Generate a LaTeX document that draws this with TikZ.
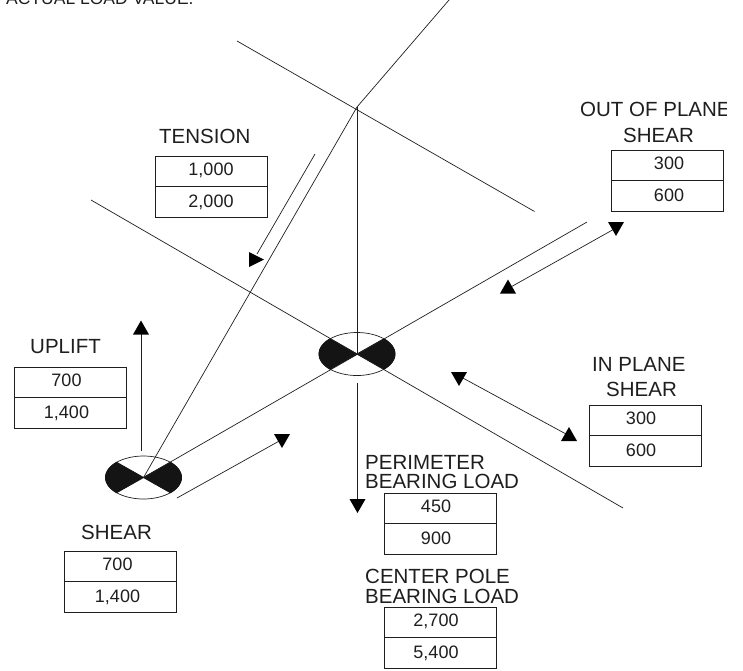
\documentclass[tikz,border=0pt]{standalone}
\usepackage{fontspec}
\setmainfont{Liberation Sans}
\usetikzlibrary{shapes.geometric}
\definecolor{ink}{HTML}{1E1E1E}
\tikzset{
  wire/.style={draw=ink,line width=0.7pt},
  boxcell/.style={draw=ink,line width=0.75pt,inner sep=0pt,minimum width=112pt,minimum height=30.5pt,font=\fontsize{18}{18}\selectfont,text=ink},
  firstcell/.style={boxcell,text height=12.9pt,text depth=3.9pt},
  secondcell/.style={boxcell,text height=12.9pt,text depth=0.9pt},
  caption/.style={anchor=base west,inner sep=0pt,font=\fontsize{20.5}{20.5}\selectfont,text=ink},
  head/.style={fill=black,draw=none},
  disc/.style={draw=ink,line width=0.7pt,shape=ellipse,inner sep=0pt,minimum width=76pt,minimum height=43pt},
  wedge/.style={fill=black!92,draw=black!92,line width=0.9pt,line join=round}
}
% name, centre x, top y, text shift, first value, second value
\newcommand{\loadbox}[6]{%
  \node[firstcell] (#1a) at (#2,#3+15.25) {\kern#4pt #5};
  \node[secondcell] (#1b) at (#2,#3+45.75) {\kern#4pt #6};
}
\newcommand{\triDown}[2]{\path[head] (#1-8,#2) -- (#1+8,#2) -- (#1,#2+14) -- cycle;}
\newcommand{\triUp}[2]{\path[head] (#1-8,#2) -- (#1+8,#2) -- (#1,#2-14) -- cycle;}
\newcommand{\tieshape}[2]{%
  \path[wedge,shift={(#1,#2)}] (0,0) -- plot[domain=-45:45,samples=24] ({38*cos(\x)},{21.5*sin(\x)}) -- cycle;
  \path[wedge,shift={(#1,#2)}] (0,0) -- plot[domain=135:225,samples=24] ({38*cos(\x)},{21.5*sin(\x)}) -- cycle;
}
\begin{document}
\begin{tikzpicture}[x=1pt,y=-1pt]
\useasboundingbox (0,0) rectangle (743,670);
\clip (0,0) rectangle (726,670);
\node[anchor=base west,inner sep=0pt,font=\fontsize{17.5}{18}\selectfont,text=ink] (note) at (6,4) {ACTUAL LOAD VALUE.};

% structure points
\coordinate (hubA) at (357,354);
\coordinate (hubB) at (143.5,477.5);
\coordinate (apex) at (357,107);
\coordinate (topEnd) at (449,0);
\coordinate (ridgeL) at (237,41);
\coordinate (ridgeR) at (534.5,211.5);
\coordinate (planeL) at (91,200);
\coordinate (planeR) at (623,508);
\coordinate (outEnd) at (587,222);

% discs
\node[disc] (discA) at (hubA) {};
\node[disc] (discB) at (hubB) {};
\tieshape{357}{354}
\tieshape{143.5}{477.5}

% structure lines
\draw[wire] (hubB) -- (apex) -- (topEnd);
\draw[wire] (ridgeL) -- (ridgeR);
\draw[wire] (apex) -- (hubA);
\draw[wire] (planeL) -- (planeR);
\draw[wire] (hubB) -- (outEnd);

% force arrows
\coordinate (tensA) at (315,154);
\coordinate (tensB) at (257,254);
\draw[wire] (tensA) -- (tensB);
\path[head] (249,252) -- (264,259.5) -- (249,267) -- cycle;

\coordinate (oopA) at (616,228);
\coordinate (oopB) at (509,288);
\draw[wire] (oopA) -- (oopB);
\triDown{616}{222}
\triUp{508}{293.5}

\coordinate (ipA) at (461,377);
\coordinate (ipB) at (566,434);
\draw[wire] (ipA) -- (ipB);
\triDown{459}{372}
\triUp{569}{441}

\coordinate (upA) at (141,451);
\coordinate (upB) at (141,330);
\draw[wire] (upA) -- (upB);
\triUp{141}{334.5}

\coordinate (shA) at (177,498);
\coordinate (shB) at (281,440);
\draw[wire] (shA) -- (shB);
\triDown{282}{434}

\coordinate (perA) at (357.5,383);
\coordinate (perB) at (357.5,502);
\draw[wire] (perA) -- (perB);
\triDown{357.5}{499}

% load tables
\loadbox{tension}{211}{156}{0}{1,000}{2,000}
\loadbox{uplift}{70}{367}{-7}{700}{1,400}
\loadbox{shear}{120}{551}{-5}{700}{1,400}
\loadbox{perim}{440.5}{493}{-9}{450}{900}
\loadbox{centre}{440.5}{607}{-9}{2,700}{5,400}
\loadbox{inplane}{645}{405}{-8}{300}{600}
\loadbox{outplane}{667.5}{150}{3}{300}{600}

% captions
\node[caption] (capT) at (159,143) {TENSION};
\node[caption] (capU) at (30,353) {UPLIFT};
\node[caption] (capS) at (81,539) {SHEAR};
\node[caption] (capP1) at (365,469) {PERIMETER};
\node[caption] (capP2) at (365,488) {BEARING LOAD};
\node[caption] (capC1) at (365,583) {CENTER POLE};
\node[caption] (capC2) at (365,603) {BEARING LOAD};
\node[caption] (capI1) at (592,371) {IN PLANE};
\node[caption] (capI2) at (606,396) {SHEAR};
\node[caption] (capO1) at (580,116) {OUT OF PLANE};
\node[caption] (capO2) at (623,142) {SHEAR};
\end{tikzpicture}
\end{document}
